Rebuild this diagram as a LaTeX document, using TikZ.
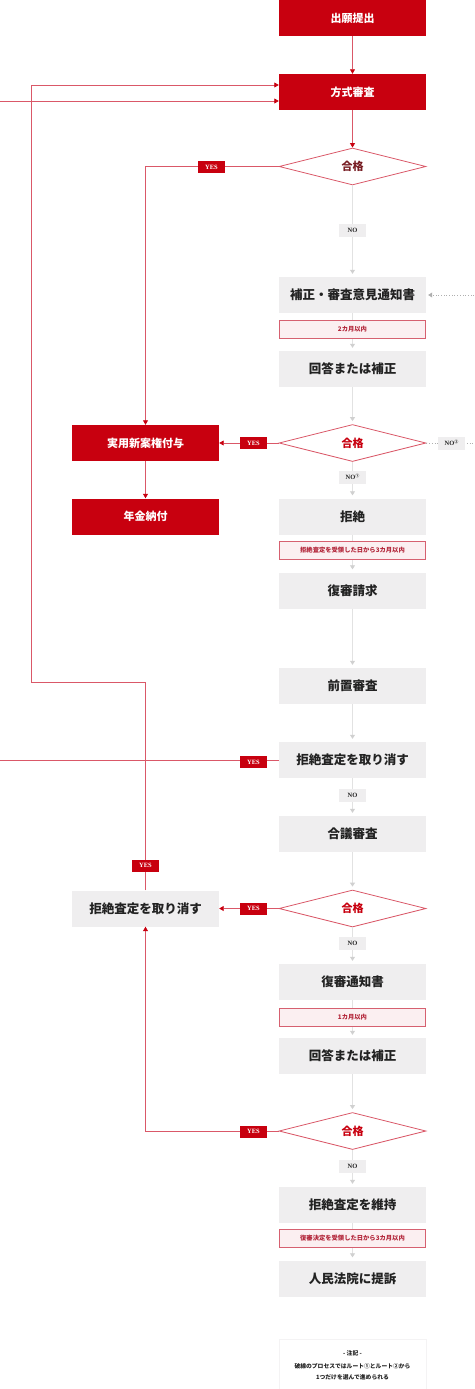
\documentclass[tikz,border=0pt]{standalone}
\usepackage{fontspec}
\setmainfont{Noto Sans CJK JP}
\newfontfamily\jpf{Noto Sans CJK JP}
\newfontfamily\lat{Liberation Serif}
\usetikzlibrary{arrows.meta,shapes.geometric}
\definecolor{mred}{RGB}{200,0,15}
\definecolor{lred}{RGB}{218,88,104}
\definecolor{dred}{RGB}{120,30,36}
\definecolor{gbox}{RGB}{239,238,239}
\definecolor{gline}{RGB}{226,226,226}
\definecolor{garrow}{RGB}{208,208,208}
\definecolor{pfill}{RGB}{251,239,241}
\definecolor{pborder}{RGB}{214,96,112}
\definecolor{ptext}{RGB}{178,36,56}
\definecolor{dgray}{RGB}{175,175,175}
\definecolor{txt}{RGB}{34,34,34}
\tikzset{
  redbox/.style={fill=mred, text=white, minimum width=147pt, minimum height=36pt, inner sep=0pt, font=\bfseries\fontsize{11}{13}\selectfont},
  graybox/.style={fill=gbox, text=txt, minimum width=147pt, minimum height=36pt, inner sep=0pt, font=\bfseries\fontsize{12.5}{14}\selectfont},
  dia/.style={diamond, draw=lred, fill=white, line width=0.8pt, minimum width=147pt, minimum height=37pt, inner sep=0pt, text=mred, font=\bfseries\fontsize{11}{13}\selectfont},
  yeslab/.style={fill=mred, text=white, minimum width=27pt, minimum height=12pt, inner sep=0pt, font=\lat\bfseries\fontsize{6.5}{7}\selectfont},
  nolab/.style={fill=gbox, text=txt, minimum width=27pt, minimum height=13pt, inner sep=0pt, font=\lat\bfseries\fontsize{6.5}{7}\selectfont},
  limit/.style={fill=pfill, draw=pborder, line width=0.6pt, minimum width=146pt, minimum height=18pt, inner sep=0pt, text=ptext, font=\bfseries\fontsize{6.3}{7}\selectfont},
  redline/.style={draw=lred, line width=0.8pt},
  redarrow/.style={draw=lred, line width=0.8pt, -{Triangle[length=4.5pt,width=5pt,color=mred]}},
  grayarrow/.style={draw=gline, line width=0.8pt, shorten >=3pt, -{Triangle[length=4pt,width=5pt,color=garrow]}},
  dotline/.style={draw=dgray, line width=0.7pt, dotted},
  dotarrow/.style={draw=dgray, line width=0.7pt, dotted, shorten >=2pt, -{Triangle[length=4pt,width=5pt,color=dgray]}},
  notebox/.style={fill=white, draw=gbox!70, line width=0.5pt, minimum width=147pt, minimum height=56pt, inner sep=0pt},
  notetxt/.style={text=txt, inner sep=0pt, font=\bfseries\fontsize{5.8}{7}\selectfont}
}
\newcommand{\circsup}[1]{\raisebox{2.2pt}{\jpf\fontsize{4}{4}\selectfont #1}}
\begin{document}
\begin{tikzpicture}[x=1pt,y=-1pt]
\useasboundingbox (0,0) rectangle (474,1389);
% main nodes
\node[redbox] (n1) at (352.5,18) {出願提出};
\node[redbox] (n2) at (352.5,92) {方式審査};
\node[dia, text=dred] (d1) at (352.5,166.5) {合格};
\node[graybox] (n3) at (352.5,295) {補正・審査意見通知書};
\node[graybox] (n4) at (352.5,369) {回答または補正};
\node[dia] (d2) at (352.5,443) {合格};
\node[redbox] (g1) at (145.5,443) {実用新案権付与};
\node[redbox] (g2) at (145.5,516.5) {年金納付};
\node[graybox] (n5) at (352.5,516.5) {拒絶};
\node[graybox] (n6) at (352.5,590.5) {復審請求};
\node[graybox] (n7) at (352.5,686) {前置審査};
\node[graybox] (n8) at (352.5,760) {拒絶査定を取り消す};
\node[graybox] (n9) at (352.5,834) {合議審査};
\node[dia] (d3) at (352.5,908.5) {合格};
\node[graybox] (c1) at (145.5,908.5) {拒絶査定を取り消す};
\node[graybox] (n10) at (352.5,982) {復審通知書};
\node[graybox] (n11) at (352.5,1056) {回答または補正};
\node[dia] (d4) at (352.5,1131) {合格};
\node[graybox] (n12) at (352.5,1205) {拒絶査定を維持};
\node[graybox] (n13) at (352.5,1278.5) {人民法院に提訴};
% helper coordinates
\coordinate (exitA) at (0,760);
\coordinate (entryA) at (0,101);
\coordinate (bendA) at (31,682);
\coordinate (exitB) at (474,443);
\coordinate (entryB) at (474,295);
% red connectors
\draw[redarrow] (n1) -- (n2);
\draw[redarrow] (n2) -- (d1);
\draw[redarrow] (d1.west) -| (g1.north);
\draw[redarrow] (d2.west) -- (g1.east);
\draw[redarrow] (g1) -- (g2);
\draw[redline] (n8.west) -- (exitA);
\draw[redarrow] (entryA) -- ([yshift=-9pt]n2.west);
\draw[redarrow] (d3.west) -- (c1.east);
\draw[redarrow] (c1.north) |- (bendA) |- ([yshift=7pt]n2.west);
\draw[redarrow] (d4.west) -| (c1.south);
% gray connectors
\draw[grayarrow] (d1) -- (n3);
\draw[grayarrow] (n3) -- (n4);
\draw[grayarrow] (n4) -- (d2);
\draw[grayarrow] (d2) -- (n5);
\draw[grayarrow] (n5) -- (n6);
\draw[grayarrow] (n6) -- (n7);
\draw[grayarrow] (n7) -- (n8);
\draw[grayarrow] (n8) -- (n9);
\draw[grayarrow] (n9) -- (d3);
\draw[grayarrow] (d3) -- (n10);
\draw[grayarrow] (n10) -- (n11);
\draw[grayarrow] (n11) -- (d4);
\draw[grayarrow] (d4) -- (n12);
\draw[grayarrow] (n12) -- (n13);
% dotted route
\draw[dotline] (d2.east) -- (exitB);
\draw[dotarrow] (entryB) -- (n3.east);
% labels
\node[yeslab] (y1) at (211.5,167) {YES};
\node[yeslab] (y2) at (253.5,443) {YES};
\node[yeslab] (y3) at (253.5,762) {YES};
\node[yeslab] (y4) at (253.5,908.5) {YES};
\node[yeslab] (y5) at (145.5,865.5) {YES};
\node[yeslab] (y6) at (253.5,1131.5) {YES};
\node[nolab] (no1) at (352.5,230.5) {NO};
\node[nolab] (no2) at (352.5,477) {NO\circsup{①}};
\node[nolab] (no3) at (451.5,443) {NO\circsup{②}};
\node[nolab] (no4) at (352.5,795) {NO};
\node[nolab] (no5) at (352.5,943.5) {NO};
\node[nolab] (no6) at (352.5,1166.5) {NO};
\node[limit] (t1) at (352.5,329) {2カ月以内};
\node[limit] (t2) at (352.5,550) {拒絶査定を受領した日から3カ月以内};
\node[limit] (t3) at (352.5,1017.5) {1カ月以内};
\node[limit] (t4) at (352.5,1238.5) {復審決定を受領した日から3カ月以内};
% note
\node[notebox] (note) at (352.5,1367) {};
\node[notetxt] (nt1) at (352.5,1353) {- 注記 -};
\node[notetxt] (nt2) at (352.5,1366) {破線のプロセスではルート①とルート②から};
\node[notetxt] (nt3) at (352.5,1377) {1つだけを選んで進められる};
\end{tikzpicture}
\end{document}
